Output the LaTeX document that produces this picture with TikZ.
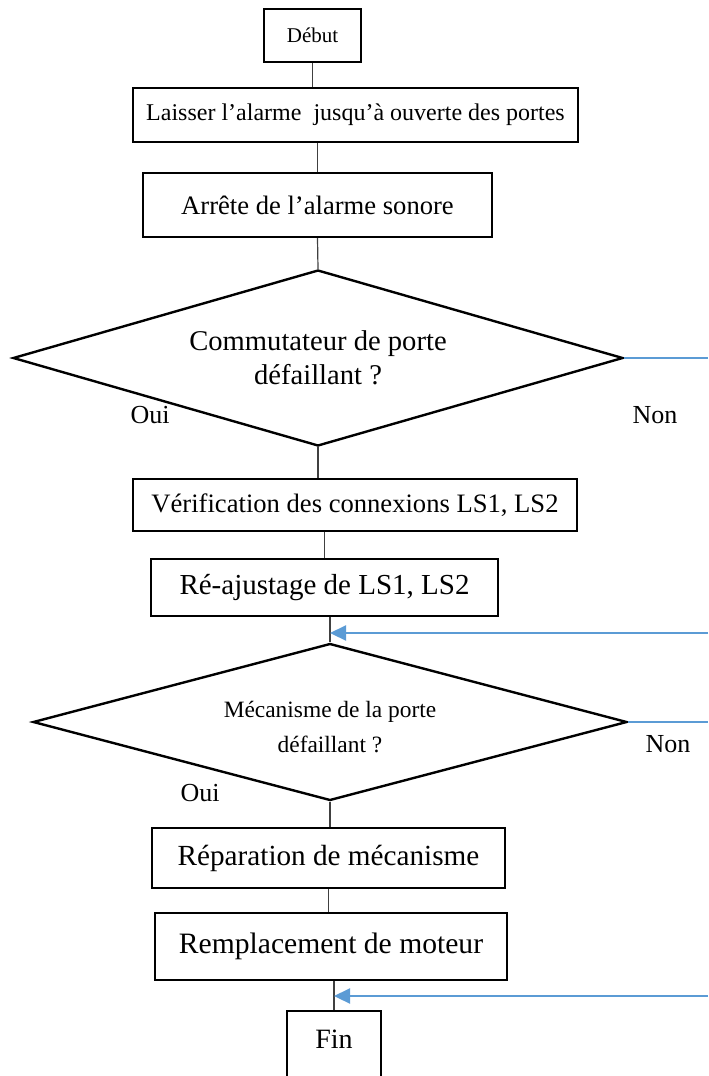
\documentclass[tikz,border=0pt]{standalone}
\usepackage{fontspec}
\setmainfont{Liberation Serif}
\usetikzlibrary{shapes.geometric,arrows.meta}
\definecolor{bleu}{RGB}{91,155,213}

\begin{document}
\begin{tikzpicture}[x=0.5pt,y=-0.5pt,
  box/.style={draw,line width=1.2pt,inner sep=0pt},
  choix/.style={diamond,draw,line width=1.2pt,inner sep=0pt},
  lien/.style={line width=0.6pt,black!75},
  retour/.style={line width=1.1pt,bleu},
  fleche/.style={retour,-{Triangle[length=8pt,width=7.5pt]}}]

  \useasboundingbox (0,0) rectangle (708,1076);

  \node[box,minimum width=48.5pt,minimum height=26.5pt,font=\fontsize{10.5}{12}\selectfont] (debut) at (312.5,35.5) {Début};
  \node[box,minimum width=222.5pt,minimum height=27pt,font=\fontsize{12}{14}\selectfont] (laisser) at (355.5,115) {Laisser l’alarme~ jusqu’à ouverte des portes};
  \node[box,minimum width=174.5pt,minimum height=32pt,font=\fontsize{13.3}{16}\selectfont] (arrete) at (317.5,205) {Arrête de l’alarme sonore};

  \node[choix,minimum width=305pt,minimum height=88pt] (dec1) at (318,358) {};
  \node[font=\fontsize{14.3}{17}\selectfont,align=center] (dec1txt) at (318,358) {Commutateur de porte\\défaillant ?};
  \node[font=\fontsize{13}{15}\selectfont] (oui1) at (150,415) {Oui};
  \node[font=\fontsize{13}{15}\selectfont] (non1) at (655,415) {Non};

  \node[box,minimum width=222pt,minimum height=26pt,font=\fontsize{13.3}{15}\selectfont] (verif) at (355,505) {Vérification des connexions LS1, LS2};
  \node[box,minimum width=173.5pt,minimum height=28.5pt,font=\fontsize{14.5}{17}\selectfont] (reajust) at (324.5,587.5) {Ré-ajustage de LS1, LS2};

  \node[choix,minimum width=297pt,minimum height=78.5pt] (dec2) at (330,722) {};
  \node[font=\fontsize{11.7}{17.5}\selectfont,align=center] (dec2txt) at (330,727) {Mécanisme de la porte\\défaillant ?};
  \node[font=\fontsize{13}{15}\selectfont] (oui2) at (200,793) {Oui};
  \node[font=\fontsize{13}{15}\selectfont] (non2) at (668,744) {Non};

  \node[box,minimum width=176.5pt,minimum height=30pt,font=\fontsize{14.6}{17}\selectfont] (repar) at (328.5,858) {Réparation de mécanisme};
  \node[box,minimum width=176pt,minimum height=33.5pt,font=\fontsize{14.8}{17}\selectfont] (rempl) at (331,946.5) {Remplacement de moteur};
  \node[box,minimum width=47pt,anchor=north,text height=18.5pt,text depth=26.5pt,font=\fontsize{14}{17}\selectfont] (fin) at (334,1010) {Fin};

  \draw[lien] (debut.south) -- (debut.south |- laisser.north);
  \draw[lien] (arrete.north |- laisser.south) -- (arrete.north);
  \draw[lien] (arrete.south) -- (dec1.north);
  \draw[lien] (dec1.south) -- (dec1.south |- verif.north);
  \draw[lien] (reajust.north |- verif.south) -- (reajust.north);
  \draw[lien] (dec2.north |- reajust.south) -- (dec2.north);
  \draw[lien] (dec2.south) -- (dec2.south |- repar.north);
  \draw[lien] (repar.south) -- (repar.south |- rempl.north);
  \draw[lien] (fin.north |- rempl.south) -- (fin.north);

  \coordinate (sortie1) at (708,358);
  \coordinate (sortie2) at (708,722);
  \coordinate (retour1) at (708,633);
  \coordinate (retour2) at (708,996);
  \draw[retour] (dec1.east) -- (sortie1 |- dec1.east);
  \draw[retour] (dec2.east) -- (sortie2 |- dec2.east);
  \draw[fleche] (retour1) -- (dec2.north |- retour1);
  \draw[fleche] (retour2) -- (fin.north |- retour2);

\end{tikzpicture}
\end{document}
